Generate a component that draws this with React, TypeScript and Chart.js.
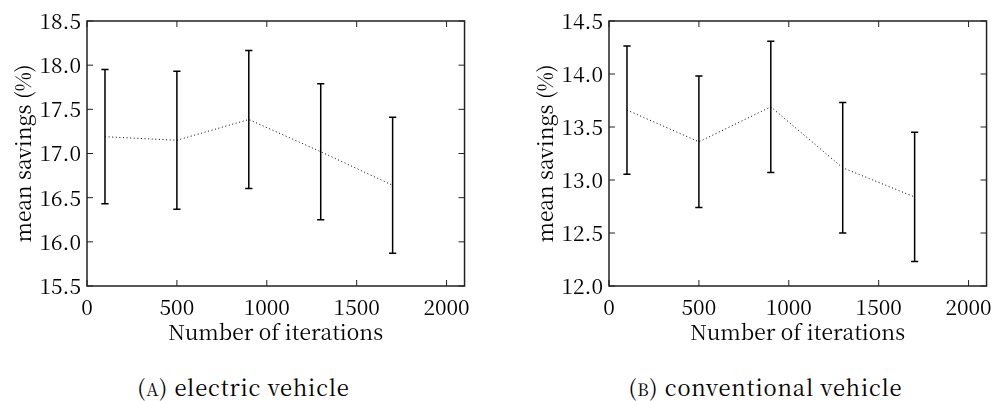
import React, { useEffect, useRef } from 'react';
import { Chart, registerables } from 'chart.js';

Chart.register(...registerables);

// ---- data ----
const iterations = [100, 500, 900, 1300, 1700];
const xTicks = [0, 500, 1000, 1500, 2000];

const evMeans = [17.19, 17.15, 17.385, 17.02, 16.64];
const evErrors = [0.76, 0.78, 0.78, 0.77, 0.77];
const evYTicks = [15.5, 16.0, 16.5, 17.0, 17.5, 18.0, 18.5];

const cvMeans = [13.66, 13.36, 13.69, 13.115, 12.84];
const cvErrors = [0.605, 0.62, 0.62, 0.615, 0.61];
const cvYTicks = [12.0, 12.5, 13.0, 13.5, 14.0, 14.5];

const xMin = 0;
const xMax = 2100;

const FONT = '"Noto Serif CJK SC", "Liberation Serif", serif';
const FONT_SIZE = 21;
const INK = '#000';
const FRAME = '#222';

type PanelProps = {
  means: number[];
  errors: number[];
  yTicks: number[];
  caption: React.ReactNode;
  left: number;
};

const PANEL_W = 478;
const PANEL_H = 350;

function Panel({ means, errors, yTicks, caption, left }: PanelProps) {
  const ref = useRef<HTMLCanvasElement | null>(null);

  useEffect(() => {
    const canvas = ref.current;
    if (!canvas) return;

    const frameAndErrors = {
      id: 'frameAndErrors',
      afterDatasetsDraw(chart: any) {
        const ctx = chart.ctx;
        const xs = chart.scales.x;
        const ys = chart.scales.y;
        const a = chart.chartArea;
        ctx.save();
        // error bars
        ctx.strokeStyle = INK;
        ctx.lineWidth = 1.5;
        for (let i = 0; i < iterations.length; i++) {
          const px = xs.getPixelForValue(iterations[i]);
          const top = ys.getPixelForValue(means[i] + errors[i]);
          const bot = ys.getPixelForValue(means[i] - errors[i]);
          ctx.beginPath();
          ctx.moveTo(px, top);
          ctx.lineTo(px, bot);
          ctx.moveTo(px - 3.6, top);
          ctx.lineTo(px + 3.6, top);
          ctx.moveTo(px - 3.6, bot);
          ctx.lineTo(px + 3.6, bot);
          ctx.stroke();
        }
        // frame
        ctx.strokeStyle = FRAME;
        ctx.lineWidth = 1.5;
        ctx.strokeRect(a.left, a.top, a.right - a.left, a.bottom - a.top);
        // inward ticks
        ctx.lineWidth = 1;
        const tl = 6;
        ctx.beginPath();
        xs.ticks.forEach((t: any) => {
          const px = xs.getPixelForValue(t.value);
          ctx.moveTo(px, a.bottom);
          ctx.lineTo(px, a.bottom - tl);
          ctx.moveTo(px, a.top);
          ctx.lineTo(px, a.top + tl);
        });
        ys.ticks.forEach((t: any) => {
          const py = ys.getPixelForValue(t.value);
          ctx.moveTo(a.left, py);
          ctx.lineTo(a.left + tl, py);
          ctx.moveTo(a.right, py);
          ctx.lineTo(a.right - tl, py);
        });
        ctx.stroke();
        ctx.restore();
      },
    };

    const chart = new Chart(canvas, {
      type: 'line',
      data: {
        datasets: [
          {
            data: iterations.map((x, i) => ({ x, y: means[i] })),
            borderColor: INK,
            borderWidth: 1,
            borderDash: [1, 2.6],
            pointRadius: 0,
            fill: false,
            tension: 0,
          },
        ],
      },
      options: {
        responsive: false,
        animation: false,
        devicePixelRatio: 1,
        layout: { padding: { left: 0, right: 7, top: 21, bottom: 0 } },
        plugins: {
          legend: { display: false },
          tooltip: { enabled: false },
          title: { display: false },
        },
        scales: {
          x: {
            type: 'linear',
            min: xMin,
            max: xMax,
            grid: { display: false, drawTicks: false },
            border: { display: false },
            afterBuildTicks: (s: any) => {
              s.ticks = xTicks.map((v) => ({ value: v }));
            },
            afterFit: (s: any) => {
              s.height = PANEL_H - 286;
            },
            ticks: {
              color: INK,
              padding: 8,
              maxRotation: 0,
              autoSkip: false,
              font: { family: FONT, size: FONT_SIZE },
              callback: (v: any) => String(v),
            },
            title: {
              display: true,
              text: 'Number of iterations',
              color: INK,
              font: { family: FONT, size: FONT_SIZE },
              padding: { top: 0, bottom: 5 },
            },
          },
          y: {
            type: 'linear',
            min: yTicks[0],
            max: yTicks[yTicks.length - 1],
            grid: { display: false, drawTicks: false },
            border: { display: false },
            afterBuildTicks: (s: any) => {
              s.ticks = yTicks.map((v) => ({ value: v }));
            },
            afterFit: (s: any) => {
              s.width = 87;
            },
            ticks: {
              color: INK,
              padding: 6,
              autoSkip: false,
              font: { family: FONT, size: FONT_SIZE },
              callback: (v: any) => Number(v).toFixed(1),
            },
            title: {
              display: true,
              text: 'mean savings (%)',
              color: INK,
              font: { family: FONT, size: FONT_SIZE },
              padding: { top: 10, bottom: 0 },
            },
          },
        },
      },
      plugins: [frameAndErrors],
    } as any);

    return () => chart.destroy();
  }, [means, errors, yTicks]);

  return (
    <div style={{ position: 'absolute', left, top: 0, width: PANEL_W, height: 401 }}>
      <canvas ref={ref} width={PANEL_W} height={PANEL_H} style={{ display: 'block' }} />
      <div
        style={{
          position: 'absolute',
          left: 0,
          top: 376,
          width: 487,
          textAlign: 'center',
          fontFamily: FONT,
          fontSize: 22,
          letterSpacing: '0.8px',
          lineHeight: '22px',
          color: INK,
          whiteSpace: 'nowrap',
        }}
      >
        {caption}
      </div>
    </div>
  );
}

export default function App() {
  return (
    <div
      style={{
        position: 'absolute',
        left: 0,
        top: 0,
        width: 1001,
        height: 401,
        background: '#fff',
        overflow: 'hidden',
      }}
    >
      <Panel
        means={evMeans}
        errors={evErrors}
        yTicks={evYTicks}
        left={0}
        caption={
          <span>
            (<span style={{ fontSize: 17 }}>A</span>) electric vehicle
          </span>
        }
      />
      <Panel
        means={cvMeans}
        errors={cvErrors}
        yTicks={cvYTicks}
        left={522}
        caption={
          <span>
            (<span style={{ fontSize: 17 }}>B</span>) conventional vehicle
          </span>
        }
      />
    </div>
  );
}
